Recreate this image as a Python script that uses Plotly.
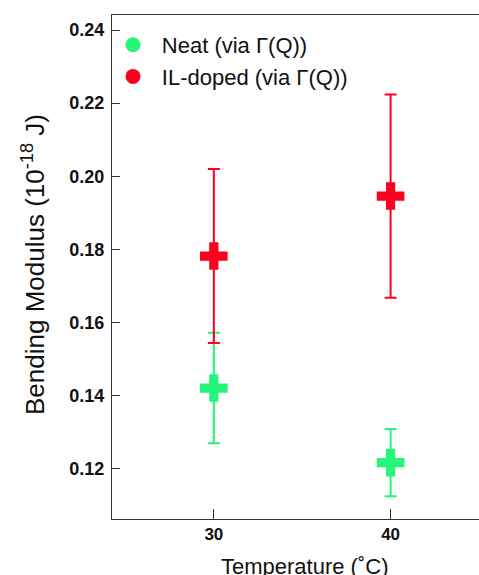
import plotly.graph_objects as go

temps = [30, 40]
neat_vals = [0.1421, 0.1217]
neat_err = [0.0151, 0.0092]
il_vals = [0.1782, 0.1946]
il_err = [0.0238, 0.0278]
series_names = ["Neat (via Γ(Q))", "IL-doped (via Γ(Q))"]
x_ticks = [30, 40]
y_ticks = [0.12, 0.14, 0.16, 0.18, 0.20, 0.22, 0.24]

GREEN = "#24F57B"
RED = "#FC0020"
FONT = "Liberation Sans, Arial, Helvetica, sans-serif"
GAP = "\u2009\u2009"

fig = go.Figure()
for vals, errs, col, name in [(neat_vals, neat_err, GREEN, series_names[0]),
                              (il_vals, il_err, RED, series_names[1])]:
    fig.add_trace(go.Scatter(
        x=temps, y=vals, mode="markers", showlegend=False,
        marker=dict(symbol="cross", size=23, color=col, line=dict(width=0)),
        error_y=dict(type="data", array=errs, visible=True, color=col,
                     thickness=2, width=6),
    ))
    # legend-only entries with circle markers
    fig.add_trace(go.Scatter(
        x=[None], y=[None], mode="markers", name=GAP + name,
        marker=dict(symbol="circle", size=15, color=col),
    ))

fig.update_layout(
    width=479, height=575,
    margin=dict(l=112, r=0, t=15, b=56),
    paper_bgcolor="white", plot_bgcolor="white",
    font=dict(family=FONT, color="#111"),
    showlegend=True,
    legend=dict(x=1 / 367, y=1.0 - 9 / 504, xanchor="left", yanchor="top",
                bgcolor="rgba(0,0,0,0)", font=dict(size=22, family=FONT),
                tracegroupgap=0, itemsizing="trace"),
    xaxis=dict(range=[24.24, 45.0], tickvals=x_ticks, ticktext=[str(v) for v in x_ticks],
               ticks="inside", ticklen=10, tickcolor="#333", tickwidth=1,
               showline=True, linecolor="#333", linewidth=1, mirror=True,
               showgrid=False, zeroline=False,
               tickfont=dict(size=17, family=FONT, weight="bold")),
    yaxis=dict(range=[0.10630, 0.24411], tickvals=y_ticks,
               ticktext=["%.2f" % v for v in y_ticks],
               ticks="inside", ticklen=8, tickcolor="#333", tickwidth=1,
               showline=True, linecolor="#333", linewidth=1, mirror=False,
               showgrid=False, zeroline=False, ticklabelstandoff=3,
               tickfont=dict(size=18, family=FONT, weight="bold")),
)

fig.add_annotation(text="Temperature (˚C)", xref="paper", yref="paper",
                   x=(304 - 112) / 367, y=0.0, yshift=-33, xanchor="center", yanchor="top",
                   showarrow=False, font=dict(size=22, family=FONT))
fig.add_annotation(text="Bending Modulus (10<sup>-18</sup> J)", xref="paper", yref="paper",
                   x=0, xshift=-79, y=(519 - 265) / 504, xanchor="center", yanchor="middle",
                   textangle=-90, showarrow=False, font=dict(size=26, family=FONT))

fig.write_html("out.html", config={"displayModeBar": False},
               post_script="document.body.style.margin='0';document.body.style.overflow='hidden';")
